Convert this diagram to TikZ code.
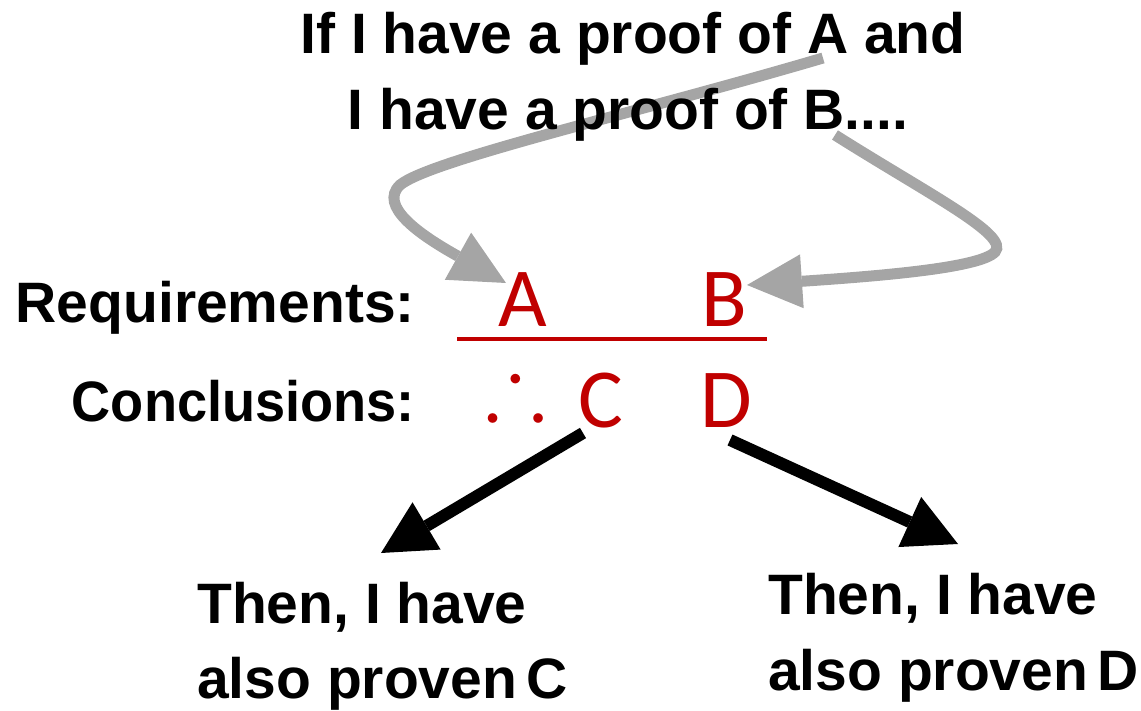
\documentclass[tikz,border=0pt]{standalone}
\usepackage{amssymb}
\usepackage{fontspec}
\setmainfont{Liberation Sans}
\newfontfamily\calfont{Carlito}
\usetikzlibrary{arrows.meta}
\pgfdeclarelayer{bg}
\pgfsetlayers{bg,main}
\definecolor{myred}{HTML}{C00000}
\definecolor{mygray}{HTML}{A5A5A5}
\begin{document}
\begin{tikzpicture}[x=1pt,y=-1pt,
  lbl/.style={font=\bfseries\fontsize{57}{76}\selectfont, inner sep=0pt, text=black},
  var/.style={font=\calfont\fontsize{84}{84}\selectfont, text=myred, inner sep=0pt, anchor=base},
  grayarrow/.style={draw=mygray, line width=11pt, -{Triangle[length=55pt,width=54pt,line width'=0pt]}},
  blackarrow/.style={draw=black, line width=12pt, -{Triangle[length=53pt,width=55pt,line width'=0pt]}},
  rule/.style={draw=myred, line width=4pt}
]
\useasboundingbox (0,0) rectangle (1141,711);

% premise text
\node[lbl, anchor=base] (t1) at (633,54) {If I have a proof of A and};
\node[lbl, anchor=base] (t2) at (628,130) {I have a proof of B....};

% row labels
\node[lbl, anchor=base east] (req) at (415,323) {Requirements:};
\node[lbl, anchor=base east] (conc) at (415,421) {\scalebox{0.95}[1]{Conclusions:}};

% rule letters
\node[var] (A) at (522.5,327) {A};
\node[var] (B) at (724.5,327) {B};
\node[var] (C) at (600.5,428) {C};
\node[var] (D) at (726.5,428) {D};
\node[text=myred, inner sep=0pt, anchor=base] (thf) at (516,416) {\scalebox{9.1}{$\smash{\therefore}$}};

\coordinate (rl) at (457,339);
\coordinate (rr) at (767,339);
\draw[rule] (rl) -- (rr);

% results
\node[lbl, anchor=base west] (L1) at (197,623) {Then, I have};
\node[lbl, anchor=base west] (L2) at (197,698) {also proven\hspace{-0.12em} C};
\node[lbl, anchor=base west] (R1) at (768,614) {Then, I have};
\node[lbl, anchor=base west] (R2) at (768,690) {also proven\hspace{-0.12em} D};

% connector ends
\coordinate (t1src) at (823,58);
\coordinate (t2src) at (835,135);
\coordinate (Ain) at (506,283);
\coordinate (Bin) at (747,285);
\coordinate (Cout) at (583,433);
\coordinate (Dout) at (730,440);
\coordinate (Lin) at (381,553);
\coordinate (Rin) at (958,544);

\begin{pgfonlayer}{bg}
\draw[grayarrow] (t1src) .. controls (640,112) and (430,160) .. (400,185)
  .. controls (378,206) and (420,235) .. (Ain);
\draw[grayarrow] (t2src) .. controls (930,195) and (1010,235) .. (995,252)
  .. controls (980,268) and (880,276) .. (Bin);
\end{pgfonlayer}

\draw[blackarrow] (Cout) -- (Lin);
\draw[blackarrow] (Dout) -- (Rin);
\end{tikzpicture}
\end{document}
